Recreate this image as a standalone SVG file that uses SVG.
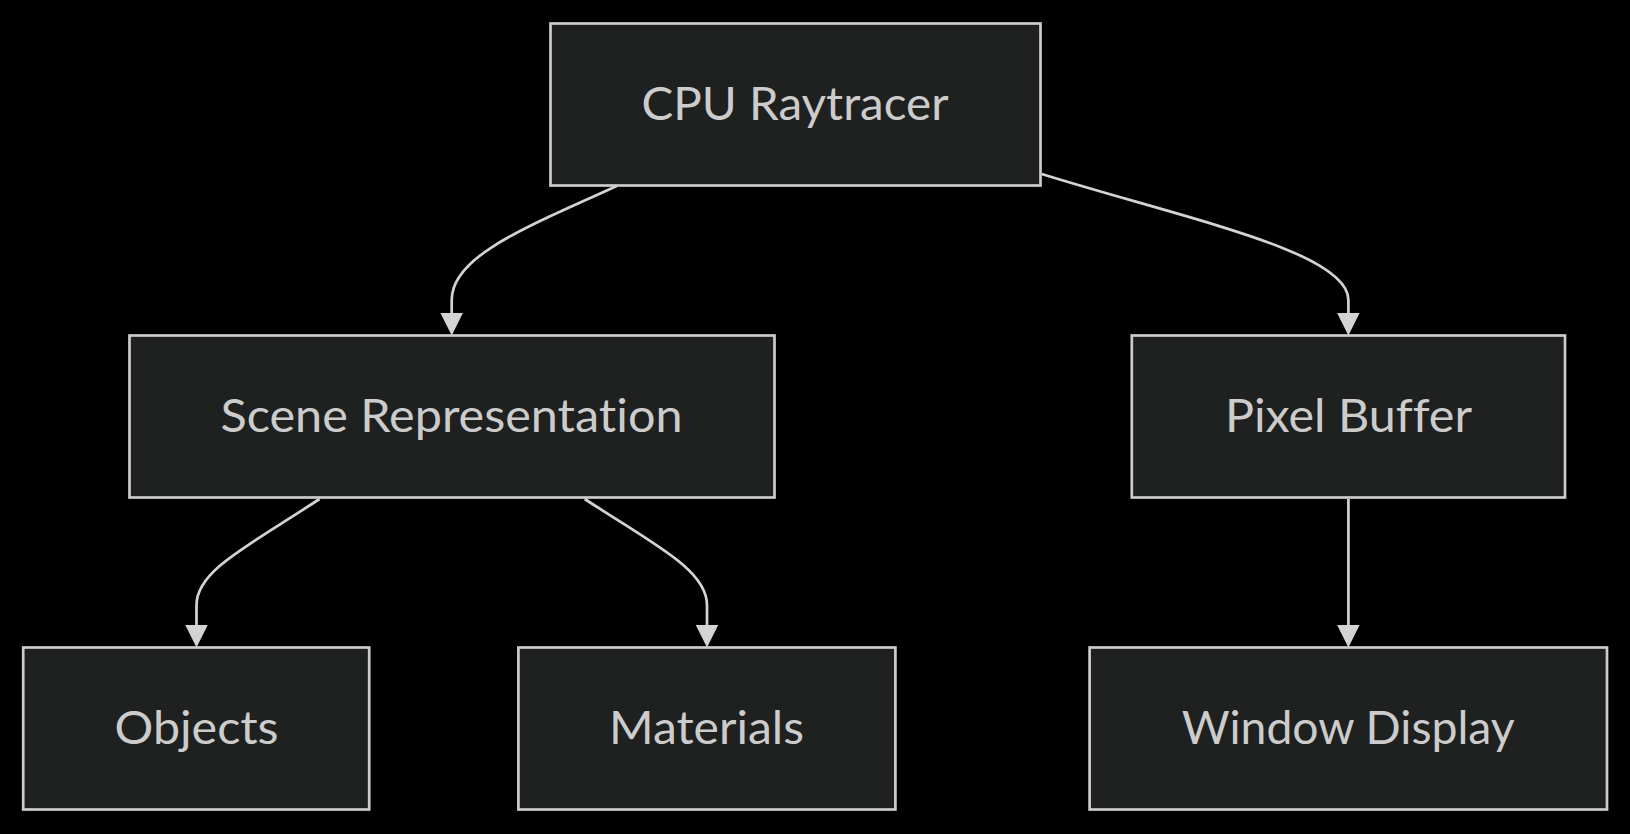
<svg xmlns="http://www.w3.org/2000/svg" width="1630" height="834" viewBox="0 0 1630 834">
<style>
.node rect{fill:#1f2020;stroke:#cccccc;stroke-width:2.7}
.node text{fill:#cccccc;font-family:"Trebuchet MS","Lato","Liberation Sans",sans-serif;font-size:47px;text-anchor:middle;font-variant-ligatures:none;font-feature-settings:"liga" 0,"clig" 0}
.edge{fill:none;stroke:#d3d3d3;stroke-width:2.7}
</style>
<defs>
<marker id="arrow" viewBox="0 0 10 10" refX="0" refY="5" markerUnits="userSpaceOnUse" markerWidth="22.5" markerHeight="23.5" orient="auto">
<path d="M0,0 L10,5 L0,10 z" fill="#d3d3d3"/>
</marker>
</defs>
<rect x="0" y="0" width="1630" height="834" fill="#000000"/>
<g id="connectors">
<path class="edge" d="M616.7,186 C530,226 451.7,255 451.7,300 L451.7,313" marker-end="url(#arrow)"/>
<path class="edge" d="M1041.7,174 C1190,220 1348.4,252 1348.4,300 L1348.4,313" marker-end="url(#arrow)"/>
<path class="edge" d="M319.5,499 C250,545 196.5,570 196.5,605 L196.5,625" marker-end="url(#arrow)"/>
<path class="edge" d="M584.7,499 C655,545 707,570 707,605 L707,625" marker-end="url(#arrow)"/>
<path class="edge" d="M1348.4,499 L1348.4,625" marker-end="url(#arrow)"/>
</g>
<g id="node-cpu" class="node">
<rect x="550.5" y="23.5" width="490" height="162"/>
<text x="795" y="119.5" textLength="307" lengthAdjust="spacingAndGlyphs">CPU Raytracer</text>
</g>
<g id="node-scene" class="node">
<rect x="129.5" y="335.5" width="645" height="162"/>
<text x="451.5" y="431.5" textLength="462" lengthAdjust="spacingAndGlyphs">Scene Representation</text>
</g>
<g id="node-pixel" class="node">
<rect x="1131.8" y="335.5" width="433.2" height="162"/>
<text x="1348.5" y="431.5" textLength="247" lengthAdjust="spacingAndGlyphs">Pixel Buffer</text>
</g>
<g id="node-objects" class="node">
<rect x="23.2" y="647.5" width="346" height="162"/>
<text x="196.6" y="743.5" textLength="164" lengthAdjust="spacingAndGlyphs">Objects</text>
</g>
<g id="node-materials" class="node">
<rect x="518.4" y="647.5" width="377" height="162"/>
<text x="706.5" y="743.5" textLength="195" lengthAdjust="spacingAndGlyphs">Materials</text>
</g>
<g id="node-window" class="node">
<rect x="1089.6" y="647.5" width="517.4" height="162"/>
<text x="1348.2" y="743.5" textLength="333" lengthAdjust="spacingAndGlyphs">Window Display</text>
</g>
</svg>
